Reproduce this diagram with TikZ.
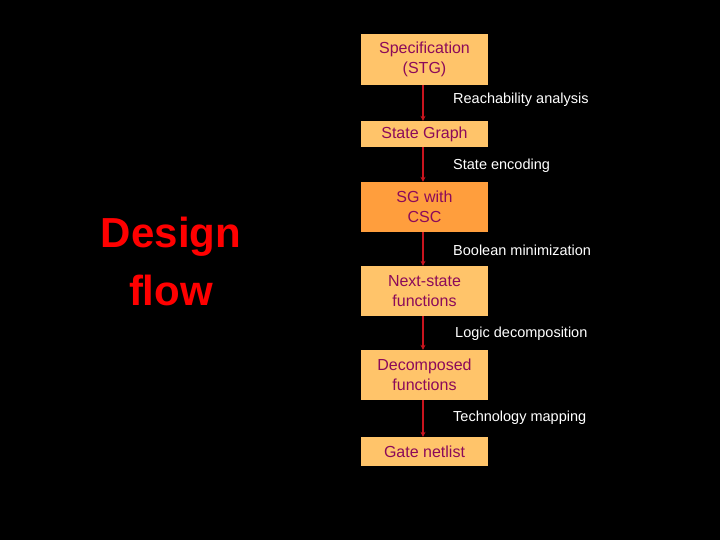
\documentclass[tikz,border=0pt]{standalone}
\usepackage{fontspec}
\setmainfont{Liberation Sans}
\usetikzlibrary{arrows.meta}
\begin{document}
\begin{tikzpicture}[x=1pt,y=-1pt,
  box/.style={fill=#1,draw=none,minimum width=127pt,inner sep=0pt,text=boxtext,font=\fontsize{16}{20}\selectfont,align=center},
  lbl/.style={text=white,font=\fontsize{14.5}{17}\selectfont,anchor=west,inner sep=0pt},
  arr/.style={draw=arrred,line width=1.2pt,-{Stealth[length=5pt,width=5pt]}}]
\definecolor{boxtext}{HTML}{8C0A5A}
\definecolor{lightor}{HTML}{FFC46A}
\definecolor{darkor}{HTML}{FF9E3D}
\definecolor{arrred}{HTML}{C8141E}
\useasboundingbox[fill=black] (0,0) rectangle (720,540);
\node[box=lightor,minimum height=51pt] (a) at (424.5,59.5) {Specification\\(STG)};
\node[box=lightor,minimum height=26pt] (b) at (424.5,134) {State Graph};
\node[box=darkor,minimum height=50pt] (c) at (424.5,207) {SG with\\CSC};
\node[box=lightor,minimum height=50pt] (d) at (424.5,291) {Next-state\\functions};
\node[box=lightor,minimum height=50pt] (e) at (424.5,375) {Decomposed\\functions};
\node[box=lightor,minimum height=29pt] (f) at (424.5,451.5) {Gate netlist};
\draw[arr] (a.south -| 423,0) -- (b.north -| 423,0);
\draw[arr] (b.south -| 423,0) -- (c.north -| 423,0);
\draw[arr] (c.south -| 423,0) -- (d.north -| 423,0);
\draw[arr] (d.south -| 423,0) -- (e.north -| 423,0);
\draw[arr] (e.south -| 423,0) -- (f.north -| 423,0);
\node[lbl] (l1) at (453,100) {Reachability analysis};
\node[lbl] (l2) at (453,166) {State encoding};
\node[lbl] (l3) at (453,250) {Boolean minimization};
\node[lbl] (l4) at (455,334) {Logic decomposition};
\node[lbl] (l5) at (453,418) {Technology mapping};
\node[text=red,font=\bfseries\fontsize{42}{58}\selectfont,align=center] (t) at (171,261) {Design\\flow};
\end{tikzpicture}
\end{document}
